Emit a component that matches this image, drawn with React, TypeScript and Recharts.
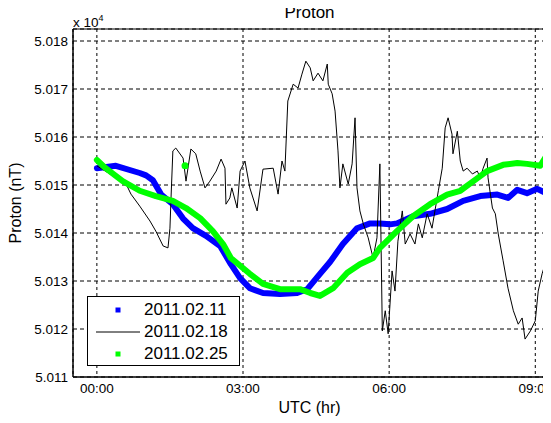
import {
  ComposedChart,
  Line,
  Scatter,
  XAxis,
  YAxis,
  CartesianGrid,
  ReferenceArea,
  Legend,
} from "recharts";

// hours after 00:00 UTC, values in nT
const blueT = [0, 0.39, 0.88, 1.01, 1.15, 1.32, 1.56, 1.77, 1.97, 2.24, 2.53, 2.75, 2.94, 3.14, 3.41, 3.76, 4.11, 4.32, 4.58, 4.79, 5.05, 5.34, 5.61, 5.81, 6.02, 6.16, 6.49, 6.84, 7.19, 7.52, 7.87, 8.22, 8.44, 8.63, 8.83, 9.04, 9.22];
const blueV = [50153.5, 50154, 50152.5, 50152, 50151, 50148, 50146, 50143, 50141, 50139.4, 50137.3, 50133.5, 50130.6, 50128.5, 50127.5, 50127.3, 50127.5, 50128.3, 50131.5, 50134, 50137.7, 50141, 50142, 50142, 50141.8, 50142, 50143.5, 50144, 50145, 50146.7, 50147.7, 50148, 50147.3, 50149, 50148.3, 50149.2, 50148.3];

const blackT = [0, 0.33, 0.6, 0.7, 0.88, 1.09, 1.21, 1.36, 1.46, 1.5, 1.52, 1.56, 1.62, 1.77, 1.83, 1.93, 2.03, 2.12, 2.22, 2.32, 2.45, 2.55, 2.63, 2.65, 2.73, 2.77, 2.88, 2.94, 3.04, 3.14, 3.29, 3.41, 3.62, 3.72, 3.8, 3.86, 3.92, 4.03, 4.13, 4.21, 4.29, 4.38, 4.44, 4.54, 4.64, 4.73, 4.75, 4.83, 4.89, 4.95, 4.99, 5.05, 5.16, 5.24, 5.3, 5.34, 5.4, 5.47, 5.57, 5.67, 5.75, 5.81, 5.86, 5.92, 5.98, 6.06, 6.12, 6.18, 6.27, 6.33, 6.43, 6.53, 6.6, 6.68, 6.78, 6.88, 6.94, 7.01, 7.09, 7.15, 7.21, 7.29, 7.31, 7.4, 7.46, 7.52, 7.6, 7.71, 7.81, 7.87, 7.93, 8.01, 8.03, 8.12, 8.18, 8.24, 8.34, 8.44, 8.55, 8.65, 8.73, 8.79, 8.9, 9.0, 9.06, 9.14, 9.2];
const blackV = [50154, 50151.9, 50150.2, 50148.1, 50145.6, 50142.5, 50140.4, 50137.3, 50136.9, 50141, 50146.7, 50157.1, 50157.7, 50155.6, 50150.8, 50157.5, 50156.5, 50152.9, 50149.4, 50150.8, 50152.9, 50155.4, 50153.5, 50146, 50147.3, 50149.4, 50145.2, 50152.9, 50155, 50149.4, 50144.6, 50153.3, 50153.5, 50148.1, 50155, 50152.9, 50167.5, 50171, 50170.2, 50173.1, 50175.8, 50174.4, 50171.7, 50173.3, 50171.7, 50175.2, 50171, 50169, 50165.4, 50157.1, 50149.4, 50154.4, 50150.2, 50154.4, 50164, 50149.4, 50144.6, 50141.9, 50139, 50134.8, 50139, 50154.4, 50119.6, 50123.8, 50119, 50132.1, 50127.9, 50138.3, 50144.6, 50137.7, 50139.8, 50137.7, 50141.9, 50139, 50144, 50141, 50144.6, 50148.8, 50153.5, 50161.9, 50164, 50160.6, 50156.5, 50161.2, 50155, 50152.9, 50153.5, 50152.3, 50152.9, 50151.5, 50153.5, 50155.6, 50151.5, 50145.2, 50144, 50139.8, 50134.2, 50128.5, 50123.8, 50121, 50122.3, 50117.9, 50119.6, 50121.7, 50127.9, 50131.5, 50133.5];

const greenT = [0, 0.18, 0.53, 0.88, 1.21, 1.56, 1.83, 2.12, 2.38, 2.59, 2.75, 3.14, 3.41, 3.76, 4.17, 4.38, 4.58, 4.85, 5.14, 5.4, 5.67, 5.81, 6.02, 6.16, 6.49, 6.84, 7.19, 7.46, 7.73, 8.01, 8.34, 8.63, 8.83, 9.1, 9.2];
const greenV = [50155.2, 50153.5, 50150.8, 50148.8, 50147.7, 50146.7, 50145.2, 50143.1, 50140.4, 50137.7, 50134.8, 50131.5, 50129.4, 50128.3, 50128.3, 50127.5, 50126.9, 50128.5, 50131.7, 50133.5, 50134.8, 50136.9, 50139, 50140.4, 50143.5, 50146, 50148, 50148.8, 50150.8, 50152.9, 50154.2, 50154.6, 50154.4, 50154, 50155.6];

// lone sample of 2011.02.25 away from its curve
const greenOutlierT = [1.81];
const greenOutlierV = [50154];

const xTicks = [0, 3, 6, 9];
const xTickLabels = ["00:00", "03:00", "06:00", "09:00"];
const yTicks = [50110, 50120, 50130, 50140, 50150, 50160, 50170, 50180];

const seriesNames = ["2011.02.11", "2011.02.18", "2011.02.25"];
const seriesColors = ["#0000ff", "#000000", "#00ff00"];

const xDomain: [number, number] = [-0.49, 9.22];
const yDomain: [number, number] = [50110, 50182.5];

const zip = (t: number[], v: number[]) => t.map((x, i) => ({ t: x, v: v[i] }));

const blueData = zip(blueT, blueV);
const blackData = zip(blackT, blackV);
const greenData = zip(greenT, greenV);
const outlierData = zip(greenOutlierT, greenOutlierV);

const font = '"Liberation Sans", Arial, sans-serif';

function LegendBox() {
  return (
    <div
      style={{
        boxSizing: "border-box",
        width: 153,
        height: 70,
        border: "1px solid #000",
        background: "#fff",
        paddingTop: 2,
        fontFamily: font,
        fontSize: 17,
        color: "#000",
      }}
    >
      {seriesNames.map((name, i) => (
        <div key={name} style={{ display: "flex", alignItems: "center", height: 22 }}>
          <svg width={44} height={22} style={{ marginLeft: 8, marginRight: 4 }}>
            {i === 1 ? (
              <line x1={0} y1={11} x2={44} y2={11} stroke={seriesColors[i]} strokeWidth={1} />
            ) : (
              <rect x={19.5} y={8.5} width={5} height={5} fill={seriesColors[i]} />
            )}
          </svg>
          <span style={{ lineHeight: "22px" }}>{name}</span>
        </div>
      ))}
    </div>
  );
}

export default function App() {
  return (
    <div style={{ position: "relative", width: 543, height: 415, fontFamily: font }}>
      <div
        style={{
          position: "absolute",
          left: 65,
          width: 473,
          top: -4,
          textAlign: "center",
          fontSize: 17,
          lineHeight: "17px",
          color: "#000",
          zIndex: 2,
        }}
      >
        Proton
      </div>
      <div
        style={{
          position: "absolute",
          left: 65,
          top: 3.6,
          fontSize: 13.5,
          lineHeight: "13.5px",
          color: "#000",
          zIndex: 2,
        }}
      >
        x 10<sup style={{ fontSize: 9, verticalAlign: "6px" }}>4</sup>
      </div>
      <ComposedChart
        width={543}
        height={415}
        margin={{ top: 21, right: 5, left: 0, bottom: 0 }}
      >
        <CartesianGrid vertical={false} stroke="#000" strokeDasharray="4 3" />
        <CartesianGrid horizontal={false} stroke="#000" strokeDasharray="3 3" />
        <XAxis
          type="number"
          dataKey="t"
          domain={xDomain}
          allowDataOverflow
          ticks={xTicks}
          tickFormatter={(v) => xTickLabels[xTicks.indexOf(v)] ?? ""}
          tickLine={false}
          tickSize={3}
          tickMargin={3}
          height={46}
          axisLine={{ stroke: "#000" }}
          tick={{ fill: "#000", fontSize: 13.5, fontFamily: font }}
          label={{
            value: "UTC (hr)",
            position: "insideBottom",
            offset: 10,
            fill: "#000",
            fontSize: 16,
            fontFamily: font,
          }}
        />
        <YAxis
          type="number"
          dataKey="v"
          domain={yDomain}
          allowDataOverflow
          ticks={yTicks}
          tickFormatter={(v) => (v / 1e4).toFixed(3)}
          tickLine={false}
          tickSize={3}
          tickMargin={2}
          width={65}
          axisLine={{ stroke: "#000" }}
          tick={{ fill: "#000", fontSize: 13.5, fontFamily: font }}
          label={{
            value: "Proton (nT)",
            angle: -90,
            position: "insideLeft",
            offset: 7.5,
            fill: "#000",
            fontSize: 16,
            fontFamily: font,
            style: { textAnchor: "middle" },
          }}
        />
        <ReferenceArea
          x1={xDomain[0]}
          x2={xDomain[1]}
          y1={yDomain[0]}
          y2={yDomain[1]}
          fill="none"
          stroke="#000"
          strokeWidth={1}
        />
        <Line
          data={blueData}
          dataKey="v"
          name={seriesNames[0]}
          stroke={seriesColors[0]}
          strokeWidth={6}
          strokeLinejoin="round"
          strokeLinecap="round"
          dot={false}
          isAnimationActive={false}
        />
        <Line
          data={blackData}
          dataKey="v"
          name={seriesNames[1]}
          stroke={seriesColors[1]}
          strokeWidth={1}
          dot={false}
          isAnimationActive={false}
        />
        <Line
          data={greenData}
          dataKey="v"
          name={seriesNames[2]}
          stroke={seriesColors[2]}
          strokeWidth={6}
          strokeLinejoin="round"
          strokeLinecap="round"
          dot={false}
          isAnimationActive={false}
        />
        <Scatter
          data={outlierData}
          dataKey="v"
          fill={seriesColors[2]}
          shape={(p: any) => <circle cx={p.cx} cy={p.cy} r={3.5} fill={seriesColors[2]} />}
          legendType="none"
          isAnimationActive={false}
        />
        <Legend
          layout="vertical"
          align="center"
          verticalAlign="middle"
          content={() => <LegendBox />}
          wrapperStyle={{ left: 79, top: 288, width: 153, height: 70, right: "auto", bottom: "auto" }}
        />
      </ComposedChart>
    </div>
  );
}
